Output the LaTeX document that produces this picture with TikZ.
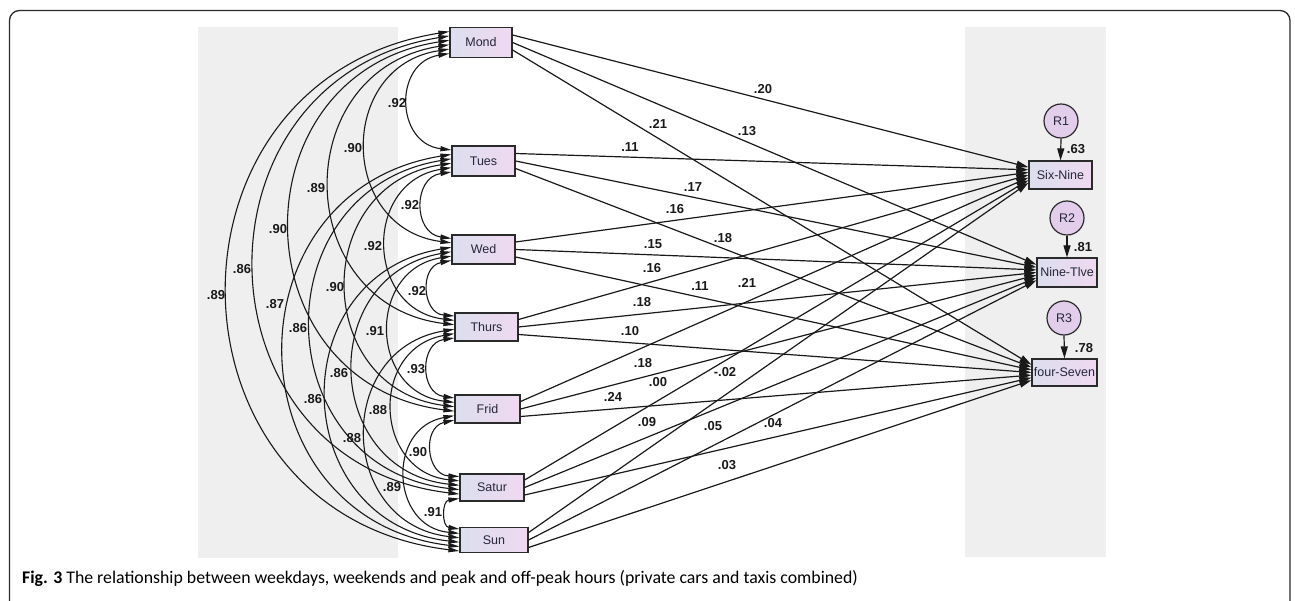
\documentclass[tikz,border=0pt]{standalone}
\usepackage{fontspec}
\newfontfamily\arialf{Liberation Sans}
\newfontfamily\capf{Carlito}
\usetikzlibrary{arrows.meta}
\definecolor{panel}{HTML}{EFEFEF}
\definecolor{boxl}{HTML}{DCDEEE}
\definecolor{boxr}{HTML}{EFD9F0}
\definecolor{resid}{HTML}{E2CEEA}
\definecolor{edge}{HTML}{2A2A2A}
\definecolor{txt}{HTML}{26263A}
\begin{document}
\begin{tikzpicture}[x=1pt,y=1pt,
  var/.style={draw=edge, line width=1.2pt, left color=boxl, right color=boxr, inner sep=0pt,
    font=\arialf\fontsize{12.5}{14}\selectfont, text=txt},
  res/.style={circle, draw=edge, line width=1.2pt, fill=resid, minimum size=34pt, inner sep=0pt,
    font=\arialf\fontsize{12.5}{14}\selectfont, text=txt},
  coef/.style={font=\arialf\bfseries\fontsize{13}{15}\selectfont, inner sep=0pt, text=black!90},
  cov/.style={line width=1.1pt, draw=black!90,
    {Triangle[length=11pt,width=5pt]}-{Triangle[length=11pt,width=5pt]}},
  reg/.style={line width=1.2pt, draw=black!90, -{Triangle[length=12pt,width=7pt]}},
]
\useasboundingbox (0,0) rectangle (1295,-601);

% outer frame (open at the bottom edge of the page)
\begin{scope}
  \clip (0,0) rectangle (1295,-601);
  \draw[edge, line width=1.3pt, rounded corners=10pt] (9.5,-10.5) rectangle (1290,-660);
\end{scope}

% grey background panels
\fill[panel] (198,-27) rectangle (398,-558);
\fill[panel] (965,-27) rectangle (1106,-557);

% exogenous variables (days)
\node[var, minimum width=62pt, minimum height=30pt] (d0) at (481,-42.5) {Mond};
\node[var, minimum width=63pt, minimum height=30pt] (d1) at (483.5,-161) {Tues};
\node[var, minimum width=63pt, minimum height=29pt] (d2) at (483.5,-249.5) {Wed};
\node[var, minimum width=63pt, minimum height=28pt] (d3) at (486.5,-327) {Thurs};
\node[var, minimum width=65pt, minimum height=28pt] (d4) at (487.5,-409) {Frid};
\node[var, minimum width=64pt, minimum height=27pt] (d5) at (492,-487.5) {Satur};
\node[var, minimum width=68pt, minimum height=25pt] (d6) at (494,-540) {Sun};

% endogenous variables (time bands)
\node[var, minimum width=63pt, minimum height=28pt] (o0) at (1060.5,-175) {Six-Nine};
\node[var, minimum width=60pt, minimum height=29pt] (o1) at (1067,-272.5) {Nine-Tlve};
\node[var, minimum width=65pt, minimum height=27pt] (o2) at (1064.5,-372.5) {four-Seven};

% residuals
\node[res] (r1) at (1061,-121) {R1};
\node[res] (r2) at (1067,-218) {R2};
\node[res] (r3) at (1064,-318) {R3};
\draw[reg] (r1.south) -- (o0.north);
\draw[reg] (r2.south) -- (o1.north);
\draw[reg] (r3.south) -- (o2.north);

% covariances between days: nested arcs on the left
\foreach \i in {0,...,5}{
  \pgfmathtruncatemacro\first{\i+1}
  \foreach \j in {\first,...,6}{
    \pgfmathsetmacro\sa{-(\i+6-\j-2.5)*4.4}
    \pgfmathsetmacro\sb{-(\j-1-\i-2.5)*4.4}
    \draw[cov] ([yshift=\sa pt]d\i.west) to[bend right=82,looseness=1.5] ([yshift=\sb pt]d\j.west);
  }
}

% regression paths
\foreach \i in {0,...,6}{
  \foreach \t in {0,1,2}{
    \pgfmathsetmacro\sa{-(\t-1)*7.5}
    \pgfmathsetmacro\sb{-(\i-3)*2.6}
    \draw[reg] ([yshift=\sa pt]d\i.east) -- ([yshift=\sb pt]o\t.west);
  }
}

% covariance estimates
\node[coef] (c01) at (397,-103) {.92};
\node[coef] (c02) at (353,-148) {.90};
\node[coef] (c03) at (316,-188) {.89};
\node[coef] (c12) at (410,-205) {.92};
\node[coef] (c04) at (278,-229) {.90};
\node[coef] (c13) at (373,-246) {.92};
\node[coef] (c05) at (242,-269) {.86};
\node[coef] (c14) at (335,-287) {.90};
\node[coef] (c23) at (417,-291) {.92};
\node[coef] (c06) at (216,-295) {.89};
\node[coef] (c16) at (275,-304) {.87};
\node[coef] (c15) at (298,-328) {.86};
\node[coef] (c24) at (375,-331) {.91};
\node[coef] (c34) at (416,-369) {.93};
\node[coef] (c25) at (339,-373) {.86};
\node[coef] (c26) at (313,-399) {.86};
\node[coef] (c35) at (378,-410) {.88};
\node[coef] (c36) at (352,-438) {.88};
\node[coef] (c45) at (418,-452) {.90};
\node[coef] (c46) at (392,-487) {.89};
\node[coef] (c56) at (433,-512) {.91};

% path coefficients
\node[coef] (b00) at (763,-89) {.20};
\node[coef] (b02) at (658,-124) {.21};
\node[coef] (b01) at (747,-131) {.13};
\node[coef] (b10) at (630,-147) {.11};
\node[coef] (b11) at (693,-187) {.17};
\node[coef] (b20) at (675,-209) {.16};
\node[coef] (b12) at (723,-238) {.18};
\node[coef] (b21) at (653,-244) {.15};
\node[coef] (b30) at (652,-268) {.16};
\node[coef] (b22) at (700,-286) {.11};
\node[coef] (b40) at (747,-283) {.21};
\node[coef] (b31) at (642,-302) {.18};
\node[coef] (b32) at (630,-331) {.10};
\node[coef] (b41) at (643,-363) {.18};
\node[coef] (b50) at (658,-382) {.00};
\node[coef] (b60) at (725,-372) {-.02};
\node[coef] (b42) at (613,-397) {.24};
\node[coef] (b51) at (647,-422) {.09};
\node[coef] (b61) at (713,-426) {.05};
\node[coef] (b52) at (773,-423) {.04};
\node[coef] (b62) at (727,-465) {.03};

% squared multiple correlations
\node[coef] (s0) at (1076,-149) {.63};
\node[coef] (s1) at (1083,-247) {.81};
\node[coef] (s2) at (1084,-348) {.78};

% caption
\node[anchor=base west, inner sep=0pt, font=\capf\fontsize{17.8}{20}\selectfont] (cap) at (22,-583)
  {\textbf{Fig. 3} The relationship between weekdays, weekends and peak and off-peak hours (private cars and taxis combined)};
\end{tikzpicture}
\end{document}
